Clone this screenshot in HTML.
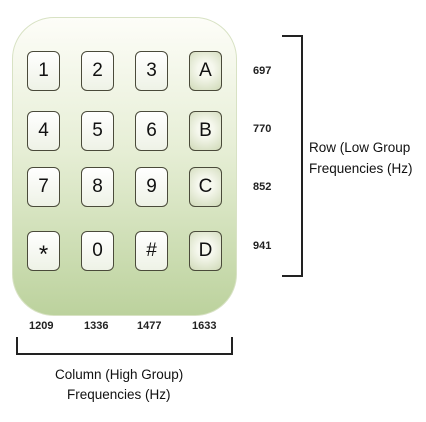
<!DOCTYPE html>
<html><head><style>
body{margin:0;width:426px;height:422px;background:#fff;position:relative;overflow:hidden;font-family:"Liberation Sans",sans-serif}
.pad{position:absolute;left:12px;top:17px;width:225px;height:299px;border-radius:42px;background:linear-gradient(#fdfdf8 0%,#e6eed5 45%,#bcd29d 100%);border:1px solid #d8e2c4;box-sizing:border-box}
.k{position:absolute;width:33px;height:40px;border:1.3px solid #4a4a3a;border-radius:6px;background:linear-gradient(#fff,#eef2e6);box-sizing:border-box;text-align:center;line-height:38px;font-size:19px;color:#111}
.k.a{background:radial-gradient(circle at 50% 45%,#f6f8ee 30%,#cfd9b7 100%)}
.f{position:absolute;font-size:11px;font-weight:bold;color:#222}
.t{position:absolute;font-size:13.5px;color:#111;white-space:nowrap}
.l{position:absolute;background:#222}
</style></head><body>
<div class="pad"></div>
<div class="k" style="left:27px;top:51px">1</div><div class="k" style="left:81px;top:51px">2</div><div class="k" style="left:135px;top:51px">3</div><div class="k a" style="left:189px;top:51px">A</div>
<div class="k" style="left:27px;top:111px">4</div><div class="k" style="left:81px;top:111px">5</div><div class="k" style="left:135px;top:111px">6</div><div class="k a" style="left:189px;top:111px">B</div>
<div class="k" style="left:27px;top:167px">7</div><div class="k" style="left:81px;top:167px">8</div><div class="k" style="left:135px;top:167px">9</div><div class="k a" style="left:189px;top:167px">C</div>
<div class="k" style="left:27px;top:231px;font-size:24px;line-height:46px">*</div><div class="k" style="left:81px;top:231px">0</div><div class="k" style="left:135px;top:231px">#</div><div class="k a" style="left:189px;top:231px">D</div>
<div class="f" style="left:253px;top:65px">697</div>
<div class="f" style="left:253px;top:123px">770</div>
<div class="f" style="left:253px;top:181px">852</div>
<div class="f" style="left:253px;top:240px">941</div>
<div class="f" style="left:29px;top:320px">1209</div>
<div class="f" style="left:84px;top:320px">1336</div>
<div class="f" style="left:137px;top:320px">1477</div>
<div class="f" style="left:192px;top:320px">1633</div>
<div class="l" style="left:282px;top:35px;width:21px;height:2px"></div>
<div class="l" style="left:301px;top:35px;width:2px;height:242px"></div>
<div class="l" style="left:282px;top:275px;width:21px;height:2px"></div>
<div class="l" style="left:16px;top:337px;width:2px;height:18px"></div>
<div class="l" style="left:16px;top:353px;width:217px;height:2px"></div>
<div class="l" style="left:231px;top:337px;width:2px;height:18px"></div>
<div class="t" style="left:309px;top:140px">Row (Low Group</div>
<div class="t" style="left:309px;top:161px;width:103px;overflow:hidden">Frequencies (Hz)</div>
<div class="t" style="left:55px;top:367px">Column (High Group)</div>
<div class="t" style="left:67px;top:387px">Frequencies (Hz)</div>
</body></html>
